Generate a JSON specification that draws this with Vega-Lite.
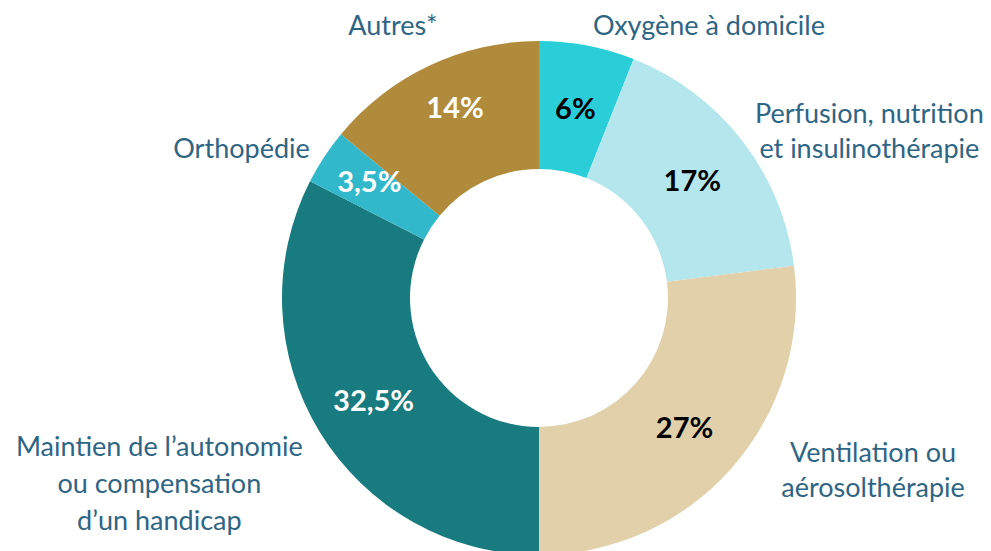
{
  "$schema": "https://vega.github.io/schema/vega-lite/v6.json",
  "autosize": {"type": "none"},
  "width": 904,
  "height": 506,
  "padding": {"left": 87, "top": 45, "right": 0, "bottom": 0},
  "background": "white",
  "view": {"stroke": null},
  "data": {
    "values": [
      {"cat": "Oxygène", "label": "Oxygène à domicile", "value": 6, "pct": "6%", "order": 1},
      {"cat": "Perfusion", "label": "Perfusion, nutrition\net insulinothérapie", "value": 17, "pct": "17%", "order": 2},
      {"cat": "Ventilation", "label": "Ventilation ou\naérosolthérapie", "value": 27, "pct": "27%", "order": 3},
      {"cat": "Maintien", "label": "Maintien de l’autonomie\nou compensation\nd’un handicap", "value": 32.5, "pct": "32,5%", "order": 4},
      {"cat": "Orthopédie", "label": "Orthopédie", "value": 3.5, "pct": "3,5%", "order": 5},
      {"cat": "Autres", "label": "Autres*", "value": 14, "pct": "14%", "order": 6}
    ]
  },
  "encoding": {
    "theta": {"field": "value", "type": "quantitative", "stack": true},
    "order": {"field": "order", "type": "quantitative"}
  },
  "layer": [
    {
      "mark": {"type": "arc", "outerRadius": 257, "innerRadius": 129},
      "encoding": {
        "color": {
          "field": "cat", "type": "nominal", "legend": null,
          "scale": {
            "domain": ["Oxygène", "Perfusion", "Ventilation", "Maintien", "Orthopédie", "Autres"],
            "range": ["#29CED8", "#B4E6ED", "#E1D0AA", "#177B7F", "#31B8CB", "#B08B3C"]
          }
        }
      }
    },
    {
      "mark": {"type": "text", "radius": 194, "dy": 3, "font": "Lato", "fontSize": 29, "fontWeight": "bold", "align": "center", "baseline": "middle"},
      "encoding": {
        "text": {"condition": {"test": "datum.cat !== 'Orthopédie' && datum.cat !== 'Autres'", "field": "pct"}, "value": ""},
        "color": {
          "condition": {"test": "datum.cat === 'Maintien'", "value": "white"},
          "value": "black"
        }
      }
    },
    {
      "mark": {"type": "text", "radius": 209, "dx": 5, "dy": 0, "font": "Lato", "fontSize": 29, "fontWeight": "bold", "align": "center", "baseline": "middle", "color": "white"},
      "encoding": {
        "text": {"condition": {"test": "datum.cat === 'Orthopédie' || datum.cat === 'Autres'", "field": "pct"}, "value": ""}
      }
    },
    {
      "mark": {"type": "text", "radius": 320, "dx": 110, "dy": 43, "font": "Lato", "fontSize": 27, "color": "#2F6584", "lineBreak": "\n", "lineHeight": 36, "align": "center", "baseline": "middle"},
      "encoding": {"text": {"condition": {"test": "datum.cat === 'Oxygène'", "field": "label"}, "value": ""}}
    },
    {
      "mark": {"type": "text", "radius": 370, "dx": 38, "dy": 44, "font": "Lato", "fontSize": 27, "color": "#2F6584", "lineBreak": "\n", "lineHeight": 35, "align": "center", "baseline": "middle"},
      "encoding": {"text": {"condition": {"test": "datum.cat === 'Perfusion'", "field": "label"}, "value": ""}}
    },
    {
      "mark": {"type": "text", "radius": 376, "dx": 52, "dy": -93, "font": "Lato", "fontSize": 27, "color": "#2F6584", "lineBreak": "\n", "lineHeight": 35, "align": "center", "baseline": "middle"},
      "encoding": {"text": {"condition": {"test": "datum.cat === 'Ventilation'", "field": "label"}, "value": ""}}
    },
    {
      "mark": {"type": "text", "radius": 423, "dx": -19, "dy": -71, "font": "Lato", "fontSize": 27, "color": "#2F6584", "lineBreak": "\n", "lineHeight": 37, "align": "center", "baseline": "middle"},
      "encoding": {"text": {"condition": {"test": "datum.cat === 'Maintien'", "field": "label"}, "value": ""}}
    },
    {
      "mark": {"type": "text", "radius": 332, "dx": -20, "dy": 34, "font": "Lato", "fontSize": 27, "color": "#2F6584", "lineBreak": "\n", "lineHeight": 36, "align": "center", "baseline": "middle"},
      "encoding": {"text": {"condition": {"test": "datum.cat === 'Orthopédie'", "field": "label"}, "value": ""}}
    },
    {
      "mark": {"type": "text", "radius": 308, "dx": -15, "dy": 8, "font": "Lato", "fontSize": 27, "color": "#2F6584", "lineBreak": "\n", "lineHeight": 36, "align": "center", "baseline": "middle"},
      "encoding": {"text": {"condition": {"test": "datum.cat === 'Autres'", "field": "label"}, "value": ""}}
    }
  ]
}
